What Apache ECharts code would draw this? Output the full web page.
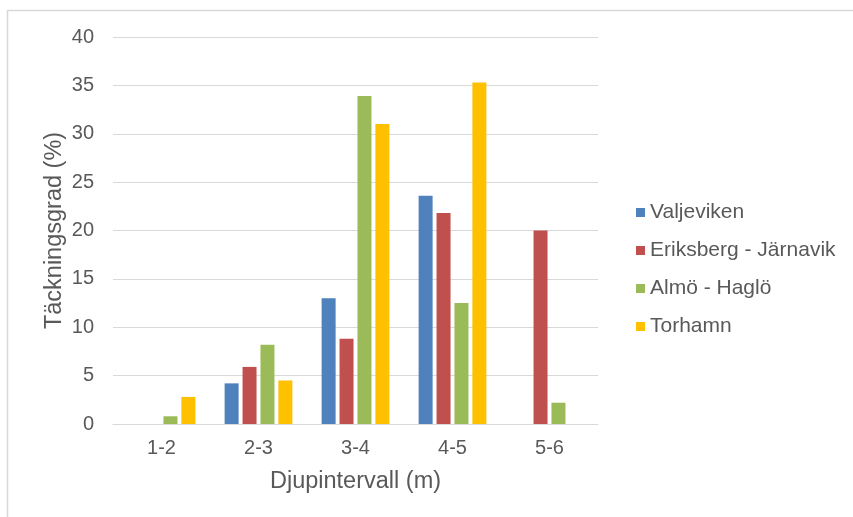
<!DOCTYPE html>
<html>
<head>
<meta charset="utf-8">
<script src="https://cdn.jsdelivr.net/npm/echarts@6/dist/echarts.min.js"></script>
<style>
  html, body { margin: 0; padding: 0; background: #fff; }
  #chart { width: 853px; height: 517px; }
</style>
</head>
<body>
<div id="chart"></div>
<script>
// Depth intervals (m)
const categories = ['1-2', '2-3', '3-4', '4-5', '5-6'];

// Coverage (%) per site
const valjeviken = [0, 4.2, 13.0, 23.6, 0];
const eriksbergJarnavik = [0, 5.9, 8.8, 21.8, 20.0];
const almoHaglo = [0.8, 8.2, 33.9, 12.5, 2.2];
const torhamn = [2.8, 4.5, 31.0, 35.3, 0];

const seriesNames = ['Valjeviken', 'Eriksberg - Järnavik', 'Almö - Haglö', 'Torhamn'];
const seriesData = [valjeviken, eriksbergJarnavik, almoHaglo, torhamn];
const colors = ['#4F81BD', '#C0504D', '#9BBB59', '#FFC000'];

const textColor = '#595959';
const font = '"Liberation Sans", Arial, sans-serif';

const chart = echarts.init(document.getElementById('chart'), null, { renderer: 'canvas' });

chart.setOption({
  animation: false,
  color: colors,
  textStyle: { fontFamily: font, color: textColor },
  grid: { left: 113, right: 255, top: 37, bottom: 93 },
  legend: {
    orient: 'vertical',
    left: 636,
    top: 202,
    padding: 0,
    itemWidth: 9,
    itemHeight: 9,
    itemGap: 17,
    icon: 'rect',
    textStyle: { fontFamily: font, fontSize: 21, color: textColor },
    data: seriesNames
  },
  xAxis: {
    type: 'category',
    data: categories,
    name: 'Djupintervall (m)',
    nameLocation: 'middle',
    nameGap: 46,
    nameMoveOverlap: false,
    nameTextStyle: { fontFamily: font, fontSize: 23.5, color: textColor },
    axisLine: { lineStyle: { color: '#D9D9D9', width: 1 } },
    axisTick: { show: false },
    axisLabel: { fontFamily: font, fontSize: 20, color: textColor, margin: 14 }
  },
  yAxis: {
    type: 'value',
    min: 0,
    max: 40,
    interval: 5,
    name: 'Täckningsgrad (%)',
    nameLocation: 'middle',
    nameRotate: 90,
    nameGap: 46,
    nameMoveOverlap: false,
    nameTextStyle: { fontFamily: font, fontSize: 23.5, color: textColor },
    axisLine: { show: false },
    axisTick: { show: false },
    axisLabel: { fontFamily: font, fontSize: 20, color: textColor, margin: 19 },
    splitLine: { lineStyle: { color: '#D9D9D9', width: 1 } }
  },
  series: seriesNames.map((name, i) => ({
    name: name,
    type: 'bar',
    data: seriesData[i],
    barWidth: 14,
    barGap: '28%'
  })),
  graphic: [
    {
      type: 'polyline',
      silent: true,
      shape: { points: [[7.5, 517], [7.5, 10.5], [853, 10.5]] },
      style: { stroke: '#D9D9D9', lineWidth: 1.5, fill: null }
    }
  ]
});
</script>
</body>
</html>
